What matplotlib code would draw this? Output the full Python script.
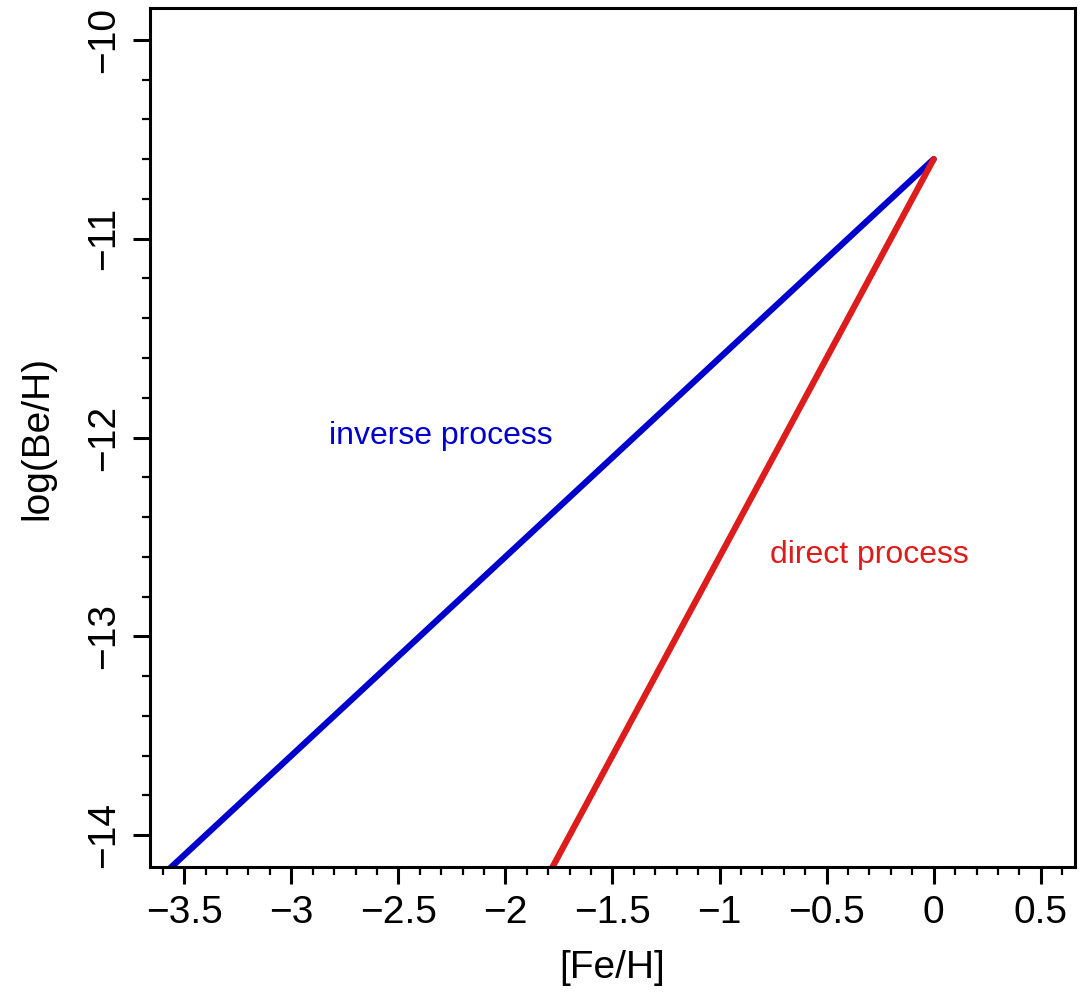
import numpy as np
import matplotlib
matplotlib.use("Agg")
import matplotlib.pyplot as plt
from matplotlib.ticker import MultipleLocator

plt.rcParams['font.family'] = ['Liberation Sans', 'DejaVu Sans']

# Be abundance vs metallicity for the two spallation channels
inverse_feh = [-3.8, 0.0]
inverse_logbe = [-14.4, -10.6]
direct_feh = [-1.9, 0.0]
direct_logbe = [-14.4, -10.6]

xticks = [-3.5, -3, -2.5, -2, -1.5, -1, -0.5, 0, 0.5]
xticklabels = ['\u22123.5', '\u22123', '\u22122.5', '\u22122', '\u22121.5', '\u22121', '\u22120.5', '0', '0.5']
yticks = [-14, -13, -12, -11, -10]
yticklabels = ['\u221214', '\u221213', '\u221212', '\u221211', '\u221210']

blue = '#0000cd'
red = '#dd1c1c'

fig = plt.figure(figsize=(10.85, 9.99), dpi=100)
ax = fig.add_axes([0.1382, 0.1321, 0.8526, 0.8599])

ax.plot(inverse_feh, inverse_logbe, color=blue, lw=4.5, solid_capstyle='round')
ax.plot(direct_feh, direct_logbe, color=red, lw=4.5, solid_capstyle='round')

ax.text(-2.30, -11.99, 'inverse process', color=blue, fontsize=23, ha='center', va='center')
ax.text(-0.30, -12.59, 'direct process', color=red, fontsize=23, ha='center', va='center')

ax.set_xlim(-3.66, 0.66)
ax.set_ylim(-14.16, -9.84)

ax.set_xticks(xticks)
ax.set_xticklabels(xticklabels)
ax.set_yticks(yticks)
ax.set_yticklabels(yticklabels, rotation=90, va='center')
ax.xaxis.set_minor_locator(MultipleLocator(0.1))
ax.yaxis.set_minor_locator(MultipleLocator(0.2))

ax.tick_params(which='major', direction='out', length=12, width=2.2, labelsize=28, pad=8)
ax.tick_params(which='minor', direction='out', length=6, width=1.6)
for s in ax.spines.values():
    s.set_linewidth(2.2)

ax.set_xlabel('[Fe/H]', fontsize=28, labelpad=14)
ax.set_ylabel('log(Be/H)', fontsize=28, labelpad=22)

fig.savefig('out.png', dpi=100)
